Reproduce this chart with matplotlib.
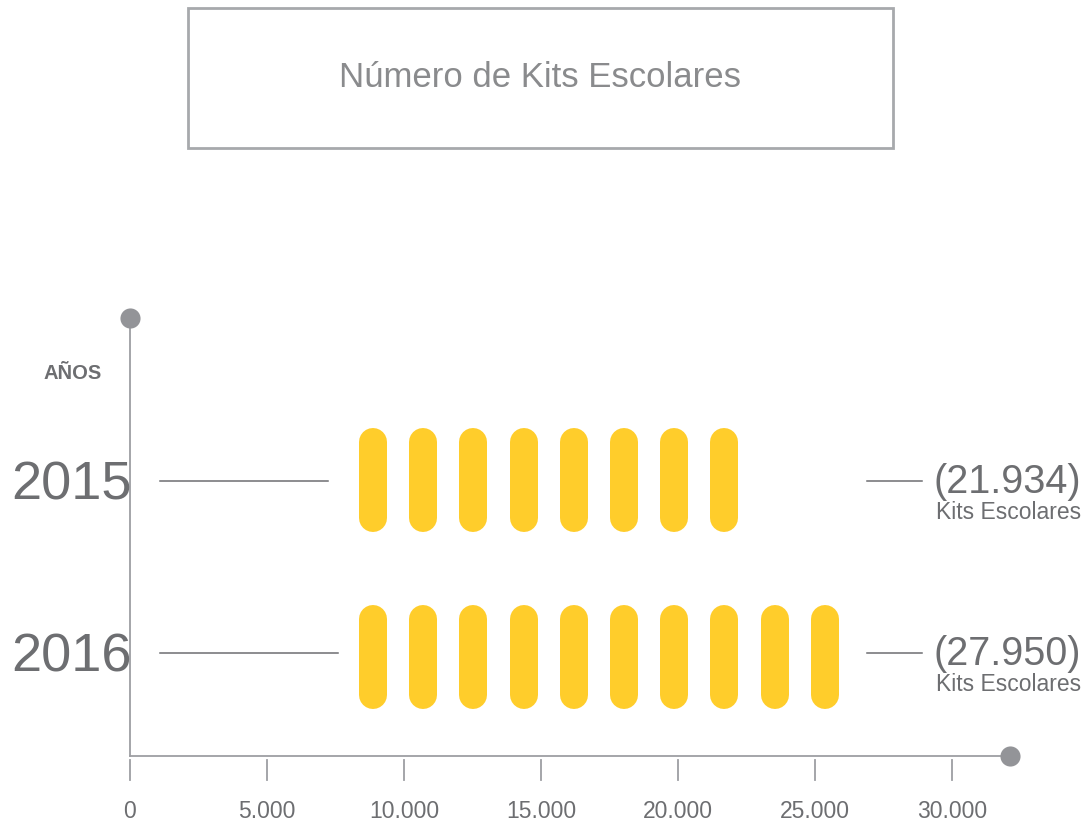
import matplotlib.pyplot as plt
from matplotlib.patches import Rectangle

plt.rcParams['font.family'] = ['Liberation Sans', 'DejaVu Sans']

# data
years = ['2015', '2016']
kits = [21934, 27950]
pill_counts = [8, 10]
tick_values = [0, 5000, 10000, 15000, 20000, 25000, 30000]
tick_labels = ['0', '5.000', '10.000', '15.000', '20.000', '25.000', '30.000']
title = 'Número de Kits Escolares'

YELLOW = '#ffcd2b'
AXIS_GRAY = '#9d9ea2'
DOT_GRAY = '#939498'
TEXT_GRAY = '#6d6e71'

W, H = 1084, 821
px_per_unit = 0.0274   # pixels per kit along x
x0_px = 130            # pixel column of zero


def px(p):
    # pixel column -> data x
    return (p - x0_px) / px_per_unit


fig = plt.figure(figsize=(W / 100, H / 100), dpi=100)
ax = fig.add_axes([0, 0, 1, 1])
ax.set_xlim(px(0), px(W))
ax.set_ylim(H, 0)
ax.axis('off')

# title box
fig.patches.append(Rectangle((188 / W, 1 - 148 / H), 705 / W, 140 / H, transform=fig.transFigure,
                             fill=False, edgecolor='#a7a9ac', linewidth=2))
fig.text(540 / W, 1 - 87 / H, title, ha='center', va='baseline', fontsize=25, color='#8a8b8d')

# axes with dots
y_top, y_base = 318, 756
ax.plot([0, 0], [y_top, y_base], color=AXIS_GRAY, lw=1.3, zorder=2)
ax.plot([0, px(1010)], [y_base, y_base], color=AXIS_GRAY, lw=1.3, zorder=2)
ax.scatter([0, px(1010)], [y_top, y_base], s=210, color=DOT_GRAY, zorder=3, linewidths=0)

# ticks
for v, lab in zip(tick_values, tick_labels):
    ax.plot([v, v], [760, 780], color=AXIS_GRAY, lw=1.3)
    ax.text(v, 818, lab, ha='center', va='baseline', fontsize=16.5, color=TEXT_GRAY)

ax.text(px(73), 379, 'AÑOS', ha='center', va='baseline', fontsize=14.5, fontweight='bold', color=TEXT_GRAY)

row_y = [481, 653]
pill_y = [480, 657]
left_line_end = [px(328), px(338)]
pill_start = px(373)
pill_step = px(423.2) - px(373)
pill_h = 104
pill_w = 28

for i, year in enumerate(years):
    y = row_y[i]
    ax.text(px(132), y + 18, year, ha='right', va='baseline', fontsize=39, color=TEXT_GRAY)
    ax.plot([px(160), left_line_end[i]], [y, y], color=TEXT_GRAY, lw=1.1)
    ax.plot([px(867), px(922)], [y, y], color=TEXT_GRAY, lw=1.1)
    label = '({:,})'.format(kits[i]).replace(',', '.')
    ax.text(px(1081), y + 12, label, ha='right', va='baseline', fontsize=28.5, color=TEXT_GRAY)
    ax.text(px(1081), y + 38, 'Kits Escolares', ha='right', va='baseline', fontsize=16.5, color=TEXT_GRAY)
    # pills
    cy = pill_y[i]
    for k in range(pill_counts[i]):
        x = pill_start + k * pill_step
        ax.plot([x, x], [cy - pill_h / 2 + pill_w / 2, cy + pill_h / 2 - pill_w / 2],
                color=YELLOW, lw=pill_w * 0.72, solid_capstyle='round', zorder=2)

fig.savefig('out.png', dpi=100)
